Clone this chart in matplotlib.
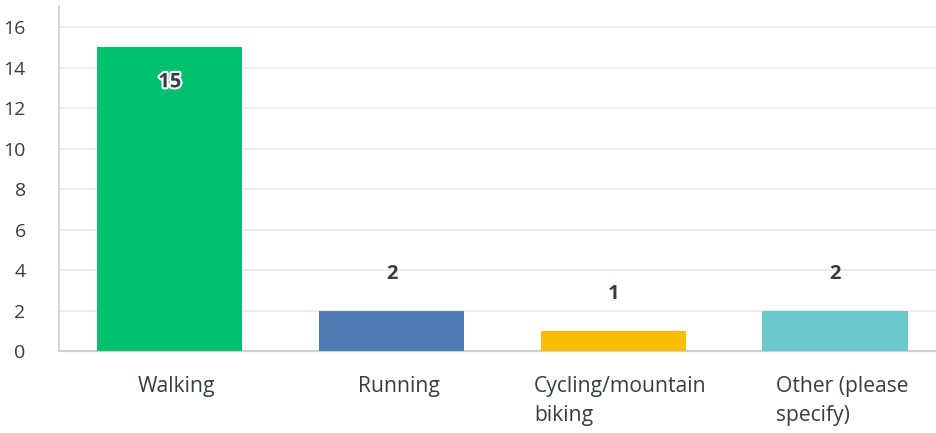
import matplotlib
matplotlib.use("Agg")
import matplotlib.pyplot as plt
import matplotlib.patheffects as pe
import matplotlib.transforms as mtransforms

categories = ["Walking", "Running", "Cycling/mountain\nbiking", "Other (please\nspecify)"]
values = [15, 2, 1, 2]
colors = ["#00BF6F", "#507CB6", "#F9BE00", "#6BC8CD"]
yticks = [0, 2, 4, 6, 8, 10, 12, 14, 16]

plt.rcParams['font.family'] = ['Open Sans', 'DejaVu Sans']
txt = "#333E48"

fig = plt.figure(figsize=(9.37, 4.33), dpi=100)
ax = fig.add_axes([59/937, 1-351/433, 878/937, 345/433])

x = list(range(len(categories)))
bars = ax.bar(x, values, width=0.655, color=colors, zorder=3)

ax.set_xlim(-0.5, 3.46)
ax.set_ylim(0, 17.04)
ax.set_yticks(yticks)
ax.set_yticklabels([str(v) for v in yticks])
ax.set_xticks(x)
ax.set_xticklabels(categories, multialignment='left', linespacing=1.5, fontsize=15.2)
ax.tick_params(axis='y', length=0, labelsize=14, colors=txt, pad=24)
ax.tick_params(axis='x', length=0, colors=txt, pad=18)
for lab in ax.get_yticklabels():
    lab.set_horizontalalignment('right')
offset = mtransforms.ScaledTranslation(7/100, 0, fig.dpi_scale_trans)
for lab in ax.get_xticklabels():
    lab.set_transform(lab.get_transform() + offset)

ax.grid(axis='y', color='#EBEBEB', linewidth=1.3, zorder=0)
ax.set_axisbelow(True)
for s in ['top', 'right']:
    ax.spines[s].set_visible(False)
ax.spines['left'].set_color('#D0D0D0')
ax.spines['left'].set_linewidth(1.3)
ax.spines['bottom'].set_color('#D0D0D0')
ax.spines['bottom'].set_linewidth(1.6)

for xi, v in zip(x, values):
    if v > 10:
        ax.annotate(str(v), (xi, v), xytext=(0, -35), textcoords='offset pixels',
                    ha='center', va='center', fontsize=14.5, fontweight='bold', color=txt,
                    path_effects=[pe.withStroke(linewidth=3, foreground='white')], zorder=5)
    else:
        ax.annotate(str(v), (xi, v), xytext=(0, 37), textcoords='offset pixels',
                    ha='center', va='center', fontsize=14.5, fontweight='bold', color=txt, zorder=5)

fig.savefig("out.png", dpi=100)
